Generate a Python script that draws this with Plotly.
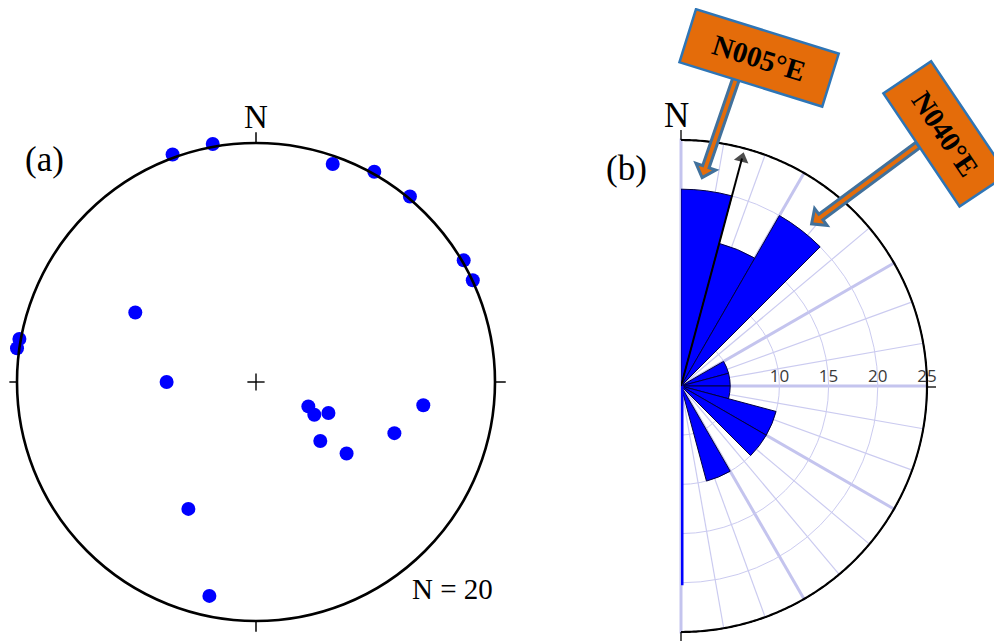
import math
import plotly.graph_objects as go

PAGE_W, PAGE_H = 1002, 641
OFF = 8  # default body margin of the html page
FIG_W, FIG_H = PAGE_W - OFF, PAGE_H - OFF

# ---------------- Panel (a): poles on the stereonet (unit-circle coordinates) ----------------
pole_x = [-0.181, -0.349, 0.321, 0.495, 0.644, 0.869, 0.907, -0.505, -0.990, -1.000,
          -0.374, 0.219, 0.244, 0.303, 0.700, 0.579, 0.269, 0.379, -0.283, -0.195]
pole_y = [0.996, 0.952, 0.912, 0.880, 0.776, 0.509, 0.426, 0.291, 0.180, 0.141,
          0.000, -0.102, -0.137, -0.130, -0.097, -0.214, -0.247, -0.299, -0.531, -0.895]
panel_a_count = "N = 20"

# ---------------- Panel (b): rose diagram, 15 deg bins, % of measurements (bidirectional) ----
bin_width = 15
bin_starts = [0, 15, 30, 45, 60, 75, 90, 105, 120, 135, 150, 165]
bin_percent = [20, 15, 20, 0, 5, 5, 5, 10, 10, 0, 10, 0]
radial_tickvals = [5, 10, 15, 20, 25]
radial_labels = ["10", "15", "20", "25"]
rose_max = 25
mean_direction = 15
mean_length = 24.6
callout_labels = ["N005°E", "N040°E"]


# ---------------- helpers (page pixel -> paper) ----------------
def px(x):
    return (x - OFF) / FIG_W


def py(y):
    return 1 - (y - OFF) / FIG_H


# panel (a) geometry (page pixels)
CXA, CYA, RA = 256, 382, 239
XL, XR, YE = 1.032, 1.08, 1.07
# panel (b) geometry (page pixels)
CXB, CYB, RB = 681, 386, 246
R_RANGE = 25.15
RB_FULL = RB * R_RANGE / rose_max
HEAD = 13  # arrowhead marker size (px)

fig = go.Figure()

# ---- panel (a) poles ----
fig.add_trace(go.Scatter(
    x=pole_x, y=pole_y, mode="markers",
    marker=dict(color="#0000ff", size=14, line=dict(width=0)),
    cliponaxis=False, hoverinfo="skip", xaxis="x", yaxis="y"))

# ---- rose bars (bidirectional: mirrored bins 180-360; only their edge on the S line shows) ----
n = len(bin_starts)
theta_c = [s + bin_width / 2 for s in bin_starts] + [s + 180 + bin_width / 2 for s in bin_starts]
r_vals = bin_percent + bin_percent
fig.add_trace(go.Barpolar(
    r=r_vals, theta=theta_c, width=[bin_width] * len(theta_c),
    marker=dict(color="#0000ff",
                line=dict(color=["#000040"] * n + ["#0000ff"] * n, width=[1] * n + [5] * n)),
    hoverinfo="skip"))

# ---- outer boundary arc ----
arc_t = [i * 0.5 for i in range(0, 361)]
fig.add_trace(go.Scatterpolar(
    r=[rose_max] * len(arc_t), theta=arc_t, mode="lines",
    line=dict(color="black", width=2.2), hoverinfo="skip"))

# ---- radial labels ----
fig.add_trace(go.Scatterpolar(
    r=radial_tickvals[1:], theta=[90] * len(radial_labels), mode="text",
    text=radial_labels, textposition="top center", cliponaxis=False,
    textfont=dict(family="Open Sans", size=17, color="#3a3a3a"), hoverinfo="skip"))

# ---- mean vector (line + triangular head whose tip sits at mean_length) ----
head_back = (HEAD / 2) * rose_max / RB
fig.add_trace(go.Scatterpolar(
    r=[0, mean_length - head_back], theta=[mean_direction, mean_direction], mode="lines+markers",
    line=dict(color="black", width=2),
    marker=dict(symbol="triangle-up", size=[0, HEAD], color="black", angleref="previous",
                line=dict(width=0)),
    cliponaxis=False, hoverinfo="skip"))

shapes = []
# thin 10-degree spokes of the rose (under the bars)
for t in range(10, 180, 10):
    if t % 30 == 0:
        continue
    a = math.radians(t)
    shapes.append(dict(type="line", xref="paper", yref="paper", layer="below",
                       x0=px(CXB), y0=py(CYB),
                       x1=px(CXB + RB * math.sin(a)), y1=py(CYB - RB * math.cos(a)),
                       line=dict(color="#cbcbf0", width=1.2)))

# stereonet circle, ticks and centre cross
shapes.append(dict(type="circle", xref="x", yref="y", x0=-1, y0=-1, x1=1, y1=1,
                   line=dict(color="black", width=2.6)))
tk = 0.045
for (x0, y0, x1, y1) in [(0, 1, 0, 1 + tk), (0, -1, 0, -1 - tk), (1, 0, 1 + tk, 0), (-1, 0, -1 - tk, 0)]:
    shapes.append(dict(type="line", xref="x", yref="y", x0=x0, y0=y0, x1=x1, y1=y1,
                       line=dict(color="black", width=1.5)))
cr = 0.036
shapes.append(dict(type="line", xref="x", yref="y", x0=-cr, y0=0, x1=cr, y1=0, line=dict(color="black", width=1.4)))
shapes.append(dict(type="line", xref="x", yref="y", x0=0, y0=-cr, x1=0, y1=cr, line=dict(color="black", width=1.4)))

# rose outer ticks (N, S, E)
shapes.append(dict(type="line", xref="paper", yref="paper", x0=px(CXB), y0=py(CYB - RB), x1=px(CXB), y1=py(CYB - RB - 10),
                   line=dict(color="black", width=1.3)))
shapes.append(dict(type="line", xref="paper", yref="paper", x0=px(CXB), y0=py(CYB + RB), x1=px(CXB), y1=py(CYB + RB + 10),
                   line=dict(color="black", width=1.3)))
shapes.append(dict(type="line", xref="paper", yref="paper", x0=px(CXB + RB), y0=py(CYB + 1), x1=px(CXB + RB + 9), y1=py(CYB + 1),
                   line=dict(color="black", width=1.3)))


def block_arrow(sx, sy, tx, ty, w=3.4, hw=10.5, hl=11.5):
    dx, dy = tx - sx, ty - sy
    L = math.hypot(dx, dy)
    ux, uy = dx / L, dy / L
    nx, ny = -uy, ux
    tx2, ty2 = tx - ux * 2.0, ty - uy * 2.0
    bx, by = tx2 - ux * hl, ty2 - uy * hl
    pts = [(sx + nx * w, sy + ny * w), (bx + nx * w, by + ny * w), (bx + nx * hw, by + ny * hw),
           (tx2, ty2), (bx - nx * hw, by - ny * hw), (bx - nx * w, by - ny * w), (sx - nx * w, sy - ny * w)]
    path = "M " + " L ".join(f"{px(a):.5f},{py(b):.5f}" for a, b in pts) + " Z"
    return dict(type="path", xref="paper", yref="paper", path=path,
                fillcolor="#E46C0A", line=dict(color="#41719C", width=3), layer="above")


shapes.append(block_arrow(737, 76, 701.5, 179.5))
shapes.append(block_arrow(918, 145, 810, 225))

serif = "Liberation Serif"
annotations = [
    dict(text="(a)", x=px(44.5), y=py(159), font=dict(family=serif, size=35, color="black")),
    dict(text="N", x=px(255.5), y=py(117), font=dict(family=serif, size=33, color="black")),
    dict(text=panel_a_count, x=px(452.5), y=py(589), font=dict(family=serif, size=29, color="black")),
    dict(text="(b)", x=px(626), y=py(168), font=dict(family=serif, size=35, color="black")),
    dict(text="N", x=px(676), y=py(116), font=dict(family=serif, size=35, color="black")),
    dict(text="<b>" + callout_labels[0] + "</b>", x=px(759.2), y=py(58.3), textangle=17.3,
         bgcolor="#E46C0A", bordercolor="#2E75B6", borderwidth=2.5, borderpad=0, width=147, height=53,
         font=dict(family=serif, size=29, color="black")),
    dict(text="<b>" + callout_labels[1] + "</b>", x=px(945.5), y=py(133.8), textangle=56.1,
         bgcolor="#E46C0A", bordercolor="#2E75B6", borderwidth=2.5, borderpad=0, width=134, height=55,
         font=dict(family=serif, size=29, color="black")),
]
for a in annotations:
    a.update(xref="paper", yref="paper", showarrow=False, xanchor="center", yanchor="middle")

grid_col = "#cbcbf0"
fig.update_layout(
    width=FIG_W, height=FIG_H, margin=dict(l=0, r=0, t=0, b=0),
    paper_bgcolor="white", plot_bgcolor="white", showlegend=False,
    xaxis=dict(domain=[px(CXA - XL * RA), px(CXA + XR * RA)], range=[-XL, XR], visible=False, fixedrange=True),
    yaxis=dict(domain=[py(CYA + YE * RA), py(CYA - YE * RA)], range=[-YE, YE], visible=False, fixedrange=True),
    polar=dict(
        domain=dict(x=[px(CXB), px(CXB + RB_FULL)],
                    y=[py(CYB + RB_FULL), py(CYB - RB_FULL)]),
        sector=[-90, 90],
        bgcolor="rgba(0,0,0,0)",
        radialaxis=dict(range=[0, R_RANGE], tickvals=radial_tickvals, showticklabels=False,
                        showline=False, ticks="", gridcolor=grid_col, gridwidth=1.3, angle=0),
        angularaxis=dict(rotation=90, direction="clockwise", tickvals=[0, 30, 60, 90, 120, 150, 180],
                         showticklabels=False, ticks="", gridcolor="#c4c4ee", gridwidth=2.8,
                         showline=False),
    ),
    shapes=shapes, annotations=annotations,
)

fig.write_html("out.html")
